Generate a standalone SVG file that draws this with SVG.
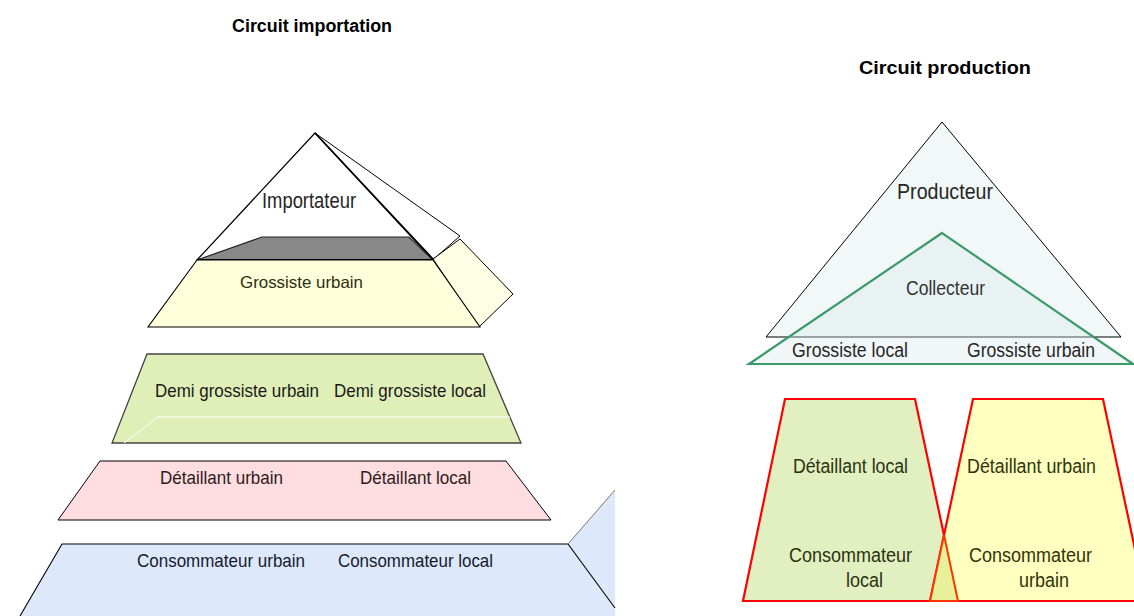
<svg xmlns="http://www.w3.org/2000/svg" width="1134" height="616" viewBox="0 0 1134 616">
<style>
text{font-family:"Liberation Sans Narrow","Liberation Sans",Arial,sans-serif;fill:#1a1a1a}
.t{font-weight:bold;font-size:18px;fill:#000}
.s{font-size:16.5px}
.m{font-size:18.5px}
.l{font-size:19.5px}
.b{font-size:21.5px}
.rs{stroke:#ff0000;stroke-width:2.2;stroke-linejoin:miter}
</style>
<rect width="1134" height="616" fill="#ffffff"/>
<text class="t" x="232" y="32" textLength="160" lengthAdjust="spacingAndGlyphs">Circuit importation</text>
<text class="t" x="859" y="74" textLength="172" lengthAdjust="spacingAndGlyphs">Circuit production</text>

<g id="importateur">
<polygon points="315,133 460,236 435,258 431,259" fill="#ffffff" stroke="#000" stroke-width="1"/>
<polygon points="315,133 197,260 433,260" fill="#ffffff" stroke="#000" stroke-width="1.2"/>
<polygon points="197,260 262,237 409,237 433,260" fill="#888888" stroke="#222" stroke-width="1.2"/>
<line x1="197" y1="260" x2="433" y2="260" stroke="#000" stroke-width="2.2"/>
<line x1="315" y1="133" x2="433" y2="259" stroke="#000" stroke-width="1.6"/>
<text class="b" x="262" y="208" textLength="94" lengthAdjust="spacingAndGlyphs" style="fill:#262626">Importateur</text>
</g>

<g id="grossiste-urbain">
<polygon points="433,259 460,239 513,294 479,327" fill="#ffffe6" stroke="#000" stroke-width="1"/>
<polygon points="197,260 433,260 480,327 148,327" fill="#ffffdc" stroke="#000" stroke-width="1.1"/>
<text class="s" x="240" y="288" textLength="123" lengthAdjust="spacingAndGlyphs" style="fill:#2e2e10">Grossiste urbain</text>
</g>

<g id="demi-grossiste">
<polygon points="147,354 483,354 521,443 112,443" fill="#e0eeb8" stroke="#444" stroke-width="1.3"/>
<polyline points="124,443 158,417 510,417" fill="none" stroke="#ffffff" stroke-width="1"/>
<text class="m" x="155" y="397" textLength="164" lengthAdjust="spacingAndGlyphs">Demi grossiste urbain</text>
<text class="m" x="334" y="397" textLength="152" lengthAdjust="spacingAndGlyphs">Demi grossiste local</text>
</g>

<g id="detaillant">
<polygon points="100,461 506,461 551,520 58,520" fill="#ffdde0" stroke="#000" stroke-width="1"/>
<text class="m" x="160" y="484" textLength="123" lengthAdjust="spacingAndGlyphs" style="fill:#2e1a1a">Détaillant urbain</text>
<text class="m" x="360" y="484" textLength="111" lengthAdjust="spacingAndGlyphs" style="fill:#2e1a1a">Détaillant local</text>
</g>

<g id="consommateur">
<polygon points="615,490 568,544 615,608" fill="#dde8fb"/>
<polygon points="62,544 568,544 615,608 615,616 20,616" fill="#dde8fb"/>
<polyline points="20,616 62,544 568,544 615,608" fill="none" stroke="#000" stroke-width="1.1"/>
<line x1="568" y1="544" x2="615" y2="490" stroke="#777" stroke-width="1"/>
<text class="m" x="137" y="567" textLength="168" lengthAdjust="spacingAndGlyphs" style="fill:#141a2e">Consommateur urbain</text>
<text class="m" x="338" y="567" textLength="155" lengthAdjust="spacingAndGlyphs" style="fill:#141a2e">Consommateur local</text>
</g>

<g id="producteur">
<polygon points="942,122 766,337 1121,337" fill="#f2f8f8" stroke="#000" stroke-width="1"/>
<text class="b" x="897" y="199" textLength="96" lengthAdjust="spacingAndGlyphs" style="fill:#262626">Producteur</text>
</g>

<g id="collecteur">
<polygon points="942,233 749,364 1133,364" fill="#d8e8ea" fill-opacity="0.35" stroke="#3a9a68" stroke-width="2.2"/>
<text class="l" x="906" y="295" textLength="79" lengthAdjust="spacingAndGlyphs" style="fill:#333">Collecteur</text>
<text class="l" x="792" y="357" textLength="116" lengthAdjust="spacingAndGlyphs" style="fill:#262626">Grossiste local</text>
<text class="l" x="967" y="357" textLength="128" lengthAdjust="spacingAndGlyphs" style="fill:#262626">Grossiste urbain</text>
</g>

<g id="circuit-local">
<polygon class="rs" points="785,399 915,399 958,601 743,601" fill="#e2efc0"/>
<text class="l" x="793" y="473" textLength="115" lengthAdjust="spacingAndGlyphs" style="fill:#2a3310">Détaillant local</text>
<text class="l" x="789" y="562" textLength="123" lengthAdjust="spacingAndGlyphs" style="fill:#2a3310">Consommateur</text>
<text class="l" x="846" y="587" textLength="37" lengthAdjust="spacingAndGlyphs" style="fill:#2a3310">local</text>
</g>

<g id="circuit-urbain">
<polygon class="rs" points="973,399 1103,399 1146,601 930,601" fill="#ffffc0"/>
<polygon points="944,535 930,601 958,601" fill="#e8f09a"/>
<polyline points="944,535 958,601 930,601 944,535" fill="none" stroke="#ff3300" stroke-width="2"/>
<text class="l" x="967" y="473" textLength="129" lengthAdjust="spacingAndGlyphs" style="fill:#33330a">Détaillant urbain</text>
<text class="l" x="969" y="562" textLength="123" lengthAdjust="spacingAndGlyphs" style="fill:#33330a">Consommateur</text>
<text class="l" x="1019" y="587" textLength="50" lengthAdjust="spacingAndGlyphs" style="fill:#33330a">urbain</text>
</g>
</svg>
